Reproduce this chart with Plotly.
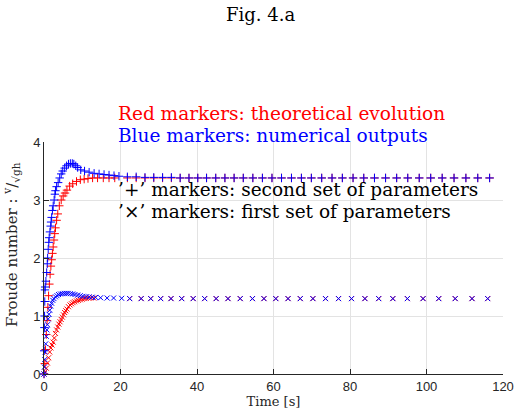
import plotly.graph_objects as go

# ---- second set of parameters ('+' markers) ----
t_theo_plus = [0, 0.2, 0.4, 0.6, 0.8, 1.0, 1.2, 1.4, 1.6, 1.8, 2.0, 2.2, 2.4, 2.6, 2.8,
               3.0, 3.3, 3.6, 4.0, 4.5, 5.0, 5.5, 6.0, 6.7, 7.5, 8.5, 9.5, 10.5, 11.5,
               12.7, 14.0, 15.5, 17.0, 18.5]
F_theo_plus = [0, 0.18, 0.42, 0.68, 0.92, 1.15, 1.35, 1.55, 1.72, 1.86, 1.97, 2.08, 2.19,
               2.31, 2.42, 2.52, 2.65, 2.76, 2.90, 3.00, 3.07, 3.12, 3.17, 3.24, 3.28,
               3.32, 3.35, 3.36, 3.37, 3.38, 3.38, 3.38, 3.38, 3.38]

t_num_plus = [0, 0.05, 0.1, 0.15, 0.2, 0.25, 0.3, 0.5, 0.7, 0.85, 0.95, 1.1, 1.25, 1.35,
              1.55, 1.75, 1.85, 2.0, 2.2, 2.4, 2.65, 2.85, 3.0, 3.3, 3.7, 4.1, 4.5, 4.9,
              5.4, 5.9, 6.4, 6.9, 7.4, 7.8, 8.3, 8.8, 9.6, 10.6, 11.8, 13.1, 14.4, 15.7,
              17.0, 18.3, 19.6]
F_num_plus = [0, 0.4, 0.8, 1.0, 1.25, 1.45, 1.5, 1.6, 1.75, 1.9, 2.0, 2.15, 2.27, 2.35,
              2.45, 2.55, 2.62, 2.70, 2.82, 2.90, 3.00, 3.10, 3.16, 3.23, 3.30, 3.38,
              3.45, 3.50, 3.55, 3.59, 3.62, 3.63, 3.63, 3.62, 3.59, 3.56, 3.52, 3.50,
              3.48, 3.46, 3.45, 3.44, 3.43, 3.42, 3.41]

# long-time samples shared by both '+' series
t_plus_late = [21.8, 24.1, 26.4, 28.7, 31.0, 33.3, 35.6, 37.9, 40.2, 42.5, 44.9, 47.3,
               49.7, 52.1, 54.6, 57.1, 59.6, 62.1, 64.7, 67.3, 69.9, 72.6, 75.3, 78.0,
               80.8, 83.6, 86.4, 89.3, 92.2, 95.1, 98.1, 101.1, 104.1, 107.2, 110.3,
               113.4, 116.5]
F_theo_plus_late = [3.38] * 37
F_num_plus_late = [3.40, 3.40, 3.39, 3.39, 3.39, 3.39, 3.38, 3.38, 3.38, 3.38, 3.38,
                   3.38, 3.38, 3.38, 3.38, 3.38, 3.38, 3.38, 3.38, 3.38, 3.38, 3.38,
                   3.38, 3.38, 3.38, 3.38, 3.38, 3.38, 3.38, 3.38, 3.38, 3.38, 3.38,
                   3.38, 3.38, 3.38, 3.38]

# ---- first set of parameters ('x' markers) ----
t_theo_x = [0, 0.3, 0.6, 0.9, 1.2, 1.5, 1.8, 2.1, 2.4, 2.7, 3.0, 3.3, 3.6, 3.9, 4.2, 4.5,
            4.8, 5.1, 5.4, 5.7, 6.0, 6.4, 6.8, 7.2, 7.6, 8.0, 8.5, 9.0, 9.5, 10.0, 10.5,
            11.0, 11.6, 12.2, 13.0]
F_theo_x = [0, 0.04, 0.10, 0.19, 0.28, 0.38, 0.45, 0.50, 0.55, 0.62, 0.70, 0.76, 0.81,
            0.86, 0.90, 0.94, 0.98, 1.02, 1.06, 1.09, 1.12, 1.16, 1.19, 1.21, 1.23, 1.245,
            1.26, 1.27, 1.28, 1.29, 1.30, 1.305, 1.31, 1.31, 1.31]

t_num_x = [0, 0.1, 0.2, 0.3, 0.45, 0.6, 0.75, 0.9, 1.1, 1.3, 1.5, 1.75, 2.0, 2.3, 2.6,
           3.0, 3.4, 3.8, 4.3, 4.8, 5.3, 5.8, 6.3, 6.9, 7.5, 8.1, 8.8, 9.5, 10.2, 11.0,
           11.8, 12.6, 13.5, 14.8, 16.5, 18.2, 20.3]
F_num_x = [0, 0.12, 0.25, 0.38, 0.52, 0.65, 0.76, 0.85, 0.95, 1.03, 1.10, 1.17, 1.22,
           1.27, 1.30, 1.33, 1.35, 1.37, 1.38, 1.385, 1.39, 1.39, 1.39, 1.385, 1.38,
           1.37, 1.36, 1.35, 1.34, 1.335, 1.33, 1.325, 1.32, 1.315, 1.31, 1.31, 1.305]

# long-time samples shared by both 'x' series
t_x_late = [22.4, 25.4, 27.9, 30.5, 33.2, 36.0, 39.0, 42.0, 45.0, 48.1, 51.3, 54.5,
            57.5, 60.6, 63.8, 67.0, 70.3, 73.6, 77.0, 80.4, 83.9, 87.5, 91.2, 95.0,
            99.1, 103.2, 107.5, 111.9, 116.0]
F_theo_x_late = [1.30] * 29
F_num_x_late = [1.30] * 29

RED = "#FF0000"
BLUE = "#0000FF"
SERIF = "DejaVu Serif, serif"
SANS = "Liberation Sans, Arial, sans-serif"
Y_MAX = 4.0


def markers(t, f, color, symbol, size):
    return go.Scatter(
        x=t, y=f, mode="markers", cliponaxis=False, showlegend=False,
        marker=dict(symbol=symbol, size=size, color=color,
                    line=dict(color=color, width=1)),
    )


fig = go.Figure()
fig.add_trace(markers(t_theo_plus + t_plus_late, F_theo_plus + F_theo_plus_late,
                      RED, "cross-thin", 6))
fig.add_trace(markers(t_theo_x + t_x_late, F_theo_x + F_theo_x_late,
                      RED, "x-thin", 5))
fig.add_trace(markers(t_num_plus + t_plus_late, F_num_plus + F_num_plus_late,
                      BLUE, "cross-thin", 6))
fig.add_trace(markers(t_num_x + t_x_late, F_num_x + F_num_x_late,
                      BLUE, "x-thin", 5))

axis_common = dict(
    showgrid=True, gridcolor="#e3e3e3", gridwidth=1,
    showline=True, linecolor="#262626", linewidth=1,
    ticks="inside", ticklen=5, tickcolor="#262626",
    tickfont=dict(family=SANS, size=13, color="#262626"),
    zeroline=False, mirror=False,
)

fig.update_xaxes(range=[0, 120], tickvals=[0, 20, 40, 60, 80, 100, 120],
                 title=dict(text="Time [s]", font=dict(family=SERIF, size=13, color="#262626"),
                            standoff=4),
                 **axis_common)
fig.update_yaxes(range=[0, Y_MAX], tickvals=[0, 1, 2, 3, 4], **axis_common)

notes = [
    ("Red markers: theoretical evolution", 4.49, RED),
    ("Blue markers: numerical outputs", 4.115, BLUE),
    ("’+’ markers: second set of parameters", 3.18, "black"),
    ("’×’ markers: first set of parameters", 2.80, "black"),
]
for text, yv, col in notes:
    fig.add_annotation(x=18.9, y=yv / Y_MAX, xref="x", yref="paper", text=text,
                       showarrow=False, xanchor="left", yanchor="middle",
                       font=dict(family=SERIF, size=18.5, color=col))

fig.add_annotation(x=-0.072, y=0.56, xref="paper", yref="paper", textangle=-90,
                   text="Froude number : <sup>v</sup>/<sub>√gh</sub>", showarrow=False,
                   xanchor="center", yanchor="middle",
                   font=dict(family=SERIF, size=15, color="#262626"))

fig.add_annotation(x=0.4723, y=1.55, xref="paper", yref="paper", text="Fig. 4.a",
                   showarrow=False, xanchor="center", yanchor="middle",
                   font=dict(family=SERIF, size=18, color="black"))

fig.update_layout(
    width=526, height=419,
    margin=dict(l=44, r=12, t=142, b=44),
    paper_bgcolor="white", plot_bgcolor="white",
)

fig.write_html("out.html")
